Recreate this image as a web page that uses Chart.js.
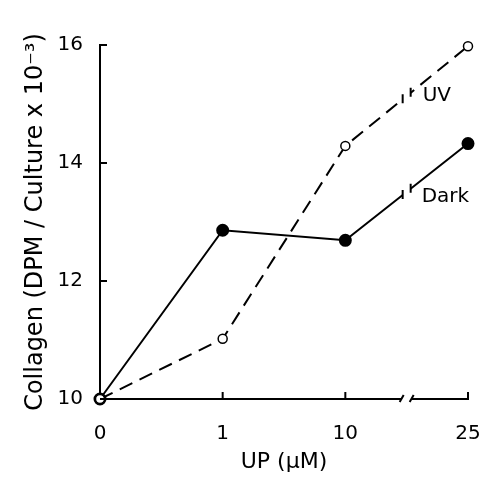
<!DOCTYPE html>
<html>
<head>
<meta charset="utf-8">
<script src="https://cdn.jsdelivr.net/npm/chart.js@4/dist/chart.umd.min.js"></script>
<style>
  html, body { margin: 0; padding: 0; background: #fff; }
  #wrap { width: 487px; height: 479px; }
</style>
</head>
<body>
<div id="wrap"><canvas id="myChart" width="487" height="479"></canvas></div>
<script>
var doses = ['0', '1', '10', '25'];
var darkValues = [10, 12.86, 12.69, 14.33];
var uvValues = [10, 11.02, 14.29, 15.98];
var yTicks = [10, 12, 14, 16];
var seriesNames = ['UV', 'Dark'];

// inward ticks, axis break marks and series labels
var extras = {
    id: 'extras',
    afterDraw: function (chart) {
        var c = chart.ctx, x = chart.scales.x, y = chart.scales.y;
        c.save();
        c.strokeStyle = '#000';
        c.lineWidth = 2;
        c.beginPath();
        yTicks.forEach(function (v) {
            var py = y.getPixelForValue(v);
            c.moveTo(x.left, py);
            c.lineTo(x.left + 7, py);
        });
        doses.forEach(function (d, i) {
            if (i === 0) return;
            var px = x.getPixelForValue(i);
            c.moveTo(px, y.bottom);
            c.lineTo(px, y.bottom - 7);
        });
        c.stroke();

        // break on the x axis
        var bx = x.getPixelForValue(2.5);
        c.fillStyle = '#fff';
        c.fillRect(bx - 5, y.bottom - 4, 10, 8);
        c.beginPath();
        c.moveTo(bx - 7, y.bottom + 3);
        c.lineTo(bx - 3, y.bottom - 4);
        c.moveTo(bx + 3, y.bottom + 3);
        c.lineTo(bx + 7, y.bottom - 4);
        c.stroke();

        // break on each line
        [uvValues, darkValues].forEach(function (vals) {
            var py = y.getPixelForValue((vals[2] + vals[3]) / 2);
            var slope = (y.getPixelForValue(vals[3]) - y.getPixelForValue(vals[2])) / (x.getPixelForValue(3) - x.getPixelForValue(2));
            c.fillStyle = '#fff';
            c.beginPath();
            c.moveTo(bx - 4, py - 4 * slope - 3);
            c.lineTo(bx + 4, py + 4 * slope - 3);
            c.lineTo(bx + 4, py + 4 * slope + 3);
            c.lineTo(bx - 4, py - 4 * slope + 3);
            c.fill();
            c.beginPath();
            c.moveTo(bx - 4, py - 4 * slope - 5);
            c.lineTo(bx - 4, py - 4 * slope + 4);
            c.moveTo(bx + 4, py + 4 * slope - 5);
            c.lineTo(bx + 4, py + 4 * slope + 4);
            c.stroke();
        });

        c.fillStyle = '#000';
        c.font = '20px "DejaVu Sans"';
        c.textBaseline = 'middle';
        c.fillText(seriesNames[0], bx + 16, y.getPixelForValue(15.14));
        c.fillText(seriesNames[1], bx + 15, y.getPixelForValue(13.42));
        c.restore();
    }
};

var ctx = document.getElementById('myChart').getContext('2d');
var myChart = new Chart(ctx, {
    type: 'line',
    data: {
        labels: doses,
        datasets: [{
            label: 'UV',
            data: uvValues,
            borderColor: '#000',
            borderWidth: 2,
            borderDash: [14, 8],
            pointRadius: 4.5,
            pointBorderWidth: 1.5,
            pointBackgroundColor: '#fff',
            pointBorderColor: '#000',
            clip: false,
            fill: false
        }, {
            label: 'Dark',
            data: darkValues,
            borderColor: '#000',
            borderWidth: 2,
            pointRadius: 5.5,
            pointBackgroundColor: '#000',
            pointBorderColor: '#000',
            clip: false,
            fill: false
        }]
    },
    options: {
        responsive: false,
        animation: false,
        layout: { padding: { top: 45, right: 19, left: 0, bottom: 0 } },
        plugins: { legend: { display: false }, tooltip: { enabled: false } },
        scales: {
            x: {
                type: 'category',
                offset: false,
                grid: { display: false, drawTicks: false },
                border: { display: true, color: '#000', width: 2 },
                ticks: { color: '#000', padding: 23, font: { family: 'DejaVu Sans', size: 20 }, maxRotation: 0 },
                title: { display: true, text: 'UP (μM)', color: '#000', padding: { top: 4 }, font: { family: 'DejaVu Sans', size: 22 } },
                afterFit: function (s) { s.height = 80; s.paddingLeft = 0; s.paddingRight = 0; }
            },
            y: {
                min: 10,
                max: 16,
                afterBuildTicks: function (s) { s.ticks = yTicks.map(function (v) { return { value: v }; }); },
                grid: { display: false, drawTicks: false },
                border: { display: true, color: '#000', width: 2 },
                ticks: { color: '#000', padding: 17, font: { family: 'DejaVu Sans', size: 20 } },
                title: { display: true, text: 'Collagen (DPM / Culture x 10⁻³)', color: '#000', padding: { top: 21, bottom: 0 }, font: { family: 'DejaVu Sans', size: 24 } },
                afterFit: function (s) { s.width = 100; s.paddingTop = 0; s.paddingBottom = 0; }
            }
        }
    },
    plugins: [extras]
});
</script>
</body>
</html>
